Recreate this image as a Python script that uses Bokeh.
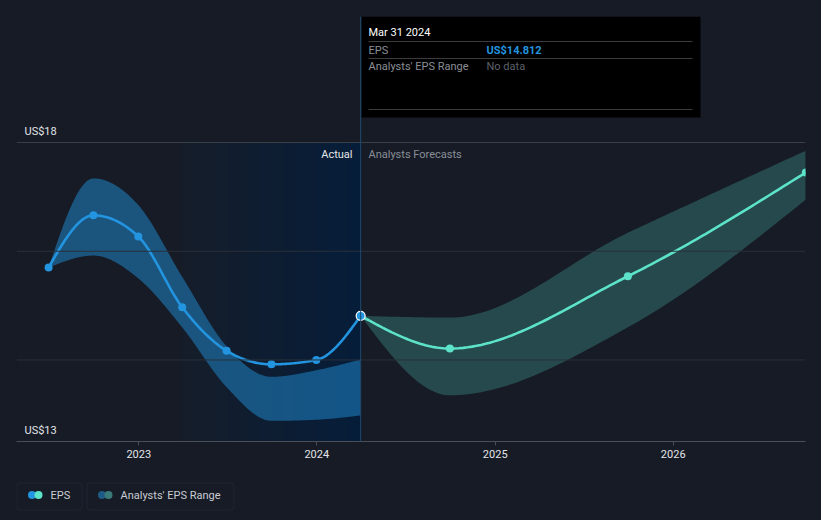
import numpy as np
import pandas as pd
from bokeh.plotting import figure
from bokeh.layouts import column
from bokeh.models import (Range1d, FixedTicker, DatetimeTickFormatter, Span, BoxAnnotation,
                          InlineStyleSheet)
from bokeh.core.properties import value
from bokeh.embed import file_html
from bokeh.resources import INLINE

# ---------------- data ----------------
past_dates = ["2022-06-30", "2022-09-30", "2022-12-31", "2023-03-31",
              "2023-06-30", "2023-09-30", "2023-12-31", "2024-03-31"]
past_eps = [15.70, 16.66, 16.27, 14.97, 14.17, 13.92, 14.00, 14.812]
past_range_low = [15.70, 15.92, 15.50, 14.60, 13.50, 12.88, 12.90, 12.98]
past_range_high = [15.70, 17.34, 16.85, 15.53, 14.25, 13.69, 13.81, 14.01]

fc_dates = ["2024-03-31", "2024-09-30", "2025-09-30", "2026-09-30"]
fc_eps = [14.812, 14.21, 15.54, 17.45]
fc_low = [14.812, 13.35, 14.60, 16.95]
fc_high = [14.812, 14.78, 16.34, 17.85]

year_ticks = ["2023-01-01", "2024-01-01", "2025-01-01", "2026-01-01"]
grid_values = [14.0, 16.0]
top_value = 18.0
bottom_value = 12.5
y_label_values = [18.0, 12.5]
y_label_texts = ["US$18", "US$13"]

highlight_start = "2023-03-31"
current_date = "2024-03-31"

tooltip_title = "Mar 31 2024"
tooltip_rows = ["EPS", "Analysts' EPS Range"]
tooltip_vals = ["US$14.812", "No data"]

legend_labels = ["EPS", "Analysts' EPS Range"]

# ---------------- style ----------------
BG = "#161b26"
BLUE = "#2394df"
TEAL = "#5ce3c9"
FONT = value("Roboto")
HOST = InlineStyleSheet(css=":host { background-color: #161b26; }")


def ms(dates):
    return (pd.to_datetime(dates).asi8 // 10**6).astype(float)


DAY = 86400000.0
T2023 = ms(["2023-01-01"])[0]
PPD = 0.4876          # pixels per day
PPU = 54.36           # pixels per US$


def X(px):  # page pixel -> x data
    return T2023 + (px - 138.3) / PPD * DAY


def Y(py):  # page pixel -> y data
    return bottom_value + (441 - py) / PPU


def monotone(xs, ys, n=40):
    xs = np.asarray(xs, float) / DAY
    ys = np.asarray(ys, float)
    k = len(xs)
    h = np.diff(xs)
    s = np.diff(ys) / h
    t = np.zeros(k)
    for i in range(1, k - 1):
        h0, h1, s0, s1 = h[i - 1], h[i], s[i - 1], s[i]
        p = (s0 * h1 + s1 * h0) / (h0 + h1)
        t[i] = (np.sign(s0) + np.sign(s1)) * min(abs(s0), abs(s1), 0.5 * abs(p))
    if k > 2:
        t[0] = (3 * s[0] - t[1]) / 2
        t[-1] = (3 * s[-1] - t[-2]) / 2
    else:
        t[0] = t[-1] = s[0]
    ox, oy = [], []
    for i in range(k - 1):
        u = np.linspace(0, 1, n, endpoint=(i == k - 2))
        dx = h[i]
        h00 = 2 * u**3 - 3 * u**2 + 1
        h10 = u**3 - 2 * u**2 + u
        h01 = -2 * u**3 + 3 * u**2
        h11 = u**3 - u**2
        ox.append(xs[i] + u * dx)
        oy.append(h00 * ys[i] + h10 * dx * t[i] + h01 * ys[i + 1] + h11 * dx * t[i + 1])
    return np.concatenate(ox) * DAY, np.concatenate(oy)


px_ = ms(past_dates)
fx_ = ms(fc_dates)

p = figure(width=821, height=470, x_axis_type="datetime",
           x_range=Range1d(X(16), X(805)), y_range=Range1d(bottom_value, Y(16)),
           y_axis_location=None, output_backend="svg", toolbar_location=None,
           min_border_left=16, min_border_right=16, min_border_top=16, min_border_bottom=29,
           background_fill_color=BG, border_fill_color=None, outline_line_color=None,
           stylesheets=[HOST])
p.xgrid.visible = False
p.ygrid.visible = False

# highlighted "last year" region with gradient
hs, he = ms([highlight_start])[0], ms([current_date])[0]
N = 16
lefts = hs + (he - hs) * np.arange(N) / N
p.quad(left=[hs], right=[he], bottom=[bottom_value], top=[top_value],
       fill_color="#1a5e90", fill_alpha=0.03, line_color=None)
p.quad(left=lefts, right=[he] * N, bottom=[bottom_value] * N, top=[top_value] * N,
       fill_color="#1a5e90", fill_alpha=0.014, line_color=None)

# grid lines
for g in grid_values:
    p.add_layout(Span(location=g, dimension="width", line_color="#2a303a", line_width=1))
p.add_layout(Span(location=top_value, dimension="width", line_color="#3a4049", line_width=1))

# bands
bx, blo = monotone(px_, past_range_low)
_, bhi = monotone(px_, past_range_high)
p.varea(x=bx, y1=blo, y2=bhi, fill_color=BLUE, fill_alpha=0.47)
fx, flo = monotone(fx_, fc_low)
_, fhi = monotone(fx_, fc_high)
p.varea(x=fx, y1=flo, y2=fhi, fill_color=TEAL, fill_alpha=0.23)

# lines
lx, ly = monotone(px_, past_eps)
p.line(lx, ly, line_color=BLUE, line_width=2.6)
lx2, ly2 = monotone(fx_, fc_eps)
p.line(lx2, ly2, line_color=TEAL, line_width=2.6)

p.scatter(px_[:-1], past_eps[:-1], size=8, fill_color=BLUE, line_color=None)
p.scatter(fx_[1:], fc_eps[1:], size=8, fill_color=TEAL, line_color=None)

# current marker line
p.add_layout(Span(location=he, dimension="height", line_color="#1f4b6e", line_width=1))
p.scatter([px_[-1]], [past_eps[-1]], size=9, fill_color=BLUE, line_color="white", line_width=1.2)

# axis
p.xaxis.ticker = FixedTicker(ticks=list(ms(year_ticks)))
p.xaxis.formatter = DatetimeTickFormatter(years="%Y", months="%Y", days="%Y",
                                          hours="%Y", minutes="%Y")
p.xaxis.axis_line_color = "#4a4f57"
p.xaxis.major_tick_line_color = "#4a4f57"
p.xaxis.major_tick_in = 0
p.xaxis.major_tick_out = 4
p.xaxis.minor_tick_line_color = None
p.xaxis.major_label_standoff = 4
p.xaxis.major_label_text_font = "Roboto"
p.xaxis.major_label_text_font_size = "11px"
p.xaxis.major_label_text_color = "#e3e5e8"

# y labels
p.text(x=[X(24)] * 2, y=[v + 11 / PPU for v in y_label_values], text=y_label_texts,
       text_font=FONT, text_font_size="11px", text_color="#e3e5e8",
       text_align="left", text_baseline="middle")

# Actual / forecasts labels
p.text(x=[X(352)], y=[Y(154)], text=["Actual"], text_font=FONT, text_font_size="11px",
       text_color="#e6e7e9", text_align="right", text_baseline="middle")
p.text(x=[X(368)], y=[Y(154)], text=["Analysts Forecasts"], text_font=FONT,
       text_font_size="11px", text_color="#8a8f96", text_align="left", text_baseline="middle")

# tooltip
p.quad(left=[X(361)], right=[X(700)], top=[Y(16)], bottom=[Y(117)],
       fill_color="#000000", line_color=None)
p.segment(x0=[X(368)] * 3, x1=[X(692)] * 3, y0=[Y(41), Y(58), Y(109)], y1=[Y(41), Y(58), Y(109)],
          line_color="#3c3c3c", line_width=1)
p.text(x=[X(368)], y=[Y(31.5)], text=[tooltip_title], text_font=FONT, text_font_size="11px",
       text_color="#ffffff", text_align="left", text_baseline="middle")
p.text(x=[X(368)] * 2, y=[Y(49.5), Y(66)], text=tooltip_rows, text_font=FONT,
       text_font_size="11px", text_color="#8a8f96", text_align="left", text_baseline="middle")
p.text(x=[X(486)], y=[Y(49.5)], text=[tooltip_vals[0]], text_font=FONT, text_font_size="11px",
       text_font_style="bold", text_color=BLUE, text_align="left", text_baseline="middle")
p.text(x=[X(486)], y=[Y(66)], text=[tooltip_vals[1]], text_font=FONT, text_font_size="11px",
       text_color="#5d6168", text_align="left", text_baseline="middle")

# ---------------- legend figure (page y 470..520; frame aligned to x 16..805) ----------------
leg = figure(width=821, height=50, x_range=Range1d(16, 805), y_range=Range1d(520, 470),
             x_axis_location=None, y_axis_location=None, output_backend="svg",
             toolbar_location=None, min_border=0, min_border_left=16, min_border_right=16,
             min_border_top=0, min_border_bottom=0, background_fill_color=None,
             border_fill_color=None, outline_line_color=None, stylesheets=[HOST])
leg.grid.visible = False
for (l, r) in [(16.5, 81.5), (86.5, 233.5)]:
    leg.add_layout(BoxAnnotation(left=l, right=r, top=482.5, bottom=509.5,
                                 fill_alpha=0, line_color="#3a3f48", line_width=1,
                                 border_radius=3))
leg.scatter([31.5, 38.0], [494.5, 494.5], size=8, fill_color=[BLUE, TEAL], line_color=None)
leg.scatter([101.5, 108.0], [494.5, 494.5], size=8, fill_color=["#1f5a86", "#3a7a78"],
            line_color=None)
leg.text(x=[50, 120], y=[495, 495], text=legend_labels, text_font=FONT, text_font_size="11px",
         text_color="#c9ccd1", text_align="left", text_baseline="middle")

layout = column(p, leg, spacing=0, stylesheets=[HOST])
open("out.html", "w").write(file_html(layout, INLINE))
